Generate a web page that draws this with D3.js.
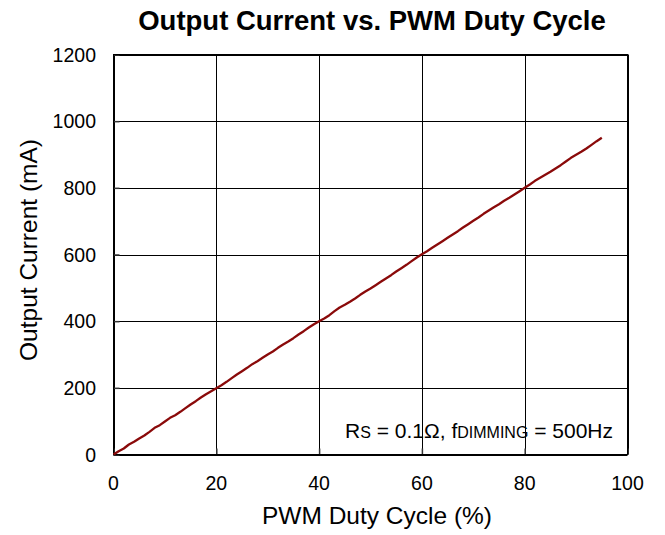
<!DOCTYPE html>
<html>
<head>
  <meta charset="utf-8">
  <title>Output Current vs. PWM Duty Cycle</title>
  <script src="https://cdnjs.cloudflare.com/ajax/libs/d3/7.8.5/d3.min.js"></script>
  <style>
    body { margin: 0; background: #fff; }
    text { font-family: Arial, "Liberation Sans", sans-serif; fill: #000; }
  </style>
</head>
<body>
  <div id="chart"></div>
  <script>
    // Data
    const duty = [0,1,2,3,4,5,6,7,8,9,10,11,12,13,14,15,16,17,18,19,20,21,22,23,24,25,26,27,28,29,30,
      31,32,33,34,35,36,37,38,39,40,41,42,43,44,45,46,47,48,49,50,51,52,53,54,55,56,57,58,59,60,
      61,62,63,64,65,66,67,68,69,70,71,72,73,74,75,76,77,78,79,80,81,82,83,84,85,86,87,88,89,90,
      91,92,93,94,95];
    const current = [0,10,18,30,38,48,57,68,80,88,99,110,118,128,139,150,160,171,181,190,199,
      208,218,229,240,250,260,271,280,290,300,309,320,330,339,349,360,370,381,391,400,
      408,418,430,441,449,458,468,479,489,498,508,518,528,538,549,559,569,580,591,601,
      610,620,630,640,650,660,670,681,691,701,711,722,732,742,751,761,770,780,790,800,
      810,821,830,839,848,858,868,879,890,899,908,918,929,940,950];
    const xTicks = [0, 20, 40, 60, 80, 100];
    const yTicks = [0, 200, 400, 600, 800, 1000, 1200];

    const width = 665, height = 535;
    const margin = { left: 113.5, right: 37.5, top: 54.5, bottom: 80.5 };

    const svg = d3.select("#chart").append("svg")
      .attr("width", width)
      .attr("height", height);

    const x = d3.scaleLinear().domain([0, 100]).range([margin.left, width - margin.right]);
    const y = d3.scaleLinear().domain([0, 1200]).range([height - margin.bottom, margin.top]);

    // grid
    svg.append("g").selectAll("line").data(xTicks).enter().append("line")
      .attr("x1", d => Math.round(x(d)) + 0.5).attr("x2", d => Math.round(x(d)) + 0.5)
      .attr("y1", y(0)).attr("y2", y(1200))
      .attr("stroke", "#000").attr("stroke-width", 1);
    svg.append("g").selectAll("line").data(yTicks).enter().append("line")
      .attr("x1", x(0)).attr("x2", x(100))
      .attr("y1", d => Math.round(y(d)) + 0.5).attr("y2", d => Math.round(y(d)) + 0.5)
      .attr("stroke", "#000").attr("stroke-width", 1);

    // inward ticks
    const xAxis = d3.axisBottom(x).tickValues(xTicks).tickSize(-6).tickFormat("");
    const yAxis = d3.axisLeft(y).tickValues(yTicks).tickSize(-6).tickFormat("");
    svg.append("g").attr("transform", `translate(0,${y(0)})`).call(xAxis)
      .call(g => g.select(".domain").remove())
      .selectAll("line").attr("stroke", "#333").attr("stroke-width", 1.5);
    svg.append("g").attr("transform", `translate(${x(0)},0)`).call(yAxis)
      .call(g => g.select(".domain").remove())
      .selectAll("line").attr("stroke", "#333").attr("stroke-width", 1.5);

    // frame
    svg.append("rect")
      .attr("x", x(0)).attr("y", y(1200))
      .attr("width", x(100) - x(0)).attr("height", y(0) - y(1200))
      .attr("fill", "none").attr("stroke", "#000").attr("stroke-width", 1);

    // tick labels
    svg.append("g").selectAll("text").data(xTicks).enter().append("text")
      .attr("x", d => x(d)).attr("y", 490)
      .attr("text-anchor", "middle").attr("font-size", 19.5)
      .text(d => d);
    svg.append("g").selectAll("text").data(yTicks).enter().append("text")
      .attr("x", 96).attr("y", d => y(d) + 7)
      .attr("text-anchor", "end").attr("font-size", 19.5)
      .text(d => d);

    // line
    const pts = duty.map((d, i) => [d, current[i]]);
    svg.append("path")
      .datum(pts)
      .attr("fill", "none")
      .attr("stroke", "#8a0a0a")
      .attr("stroke-width", 2.3)
      .attr("stroke-linejoin", "round")
      .attr("d", d3.line().x(d => x(d[0])).y(d => y(d[1])));

    // title and axis labels
    svg.append("text")
      .attr("x", 372).attr("y", 30)
      .attr("text-anchor", "middle").attr("font-size", 27.5).attr("font-weight", "bold")
      .text("Output Current vs. PWM Duty Cycle");
    svg.append("text")
      .attr("x", 377).attr("y", 524)
      .attr("text-anchor", "middle").attr("font-size", 24.5)
      .text("PWM Duty Cycle (%)");
    svg.append("text")
      .attr("transform", "translate(37,250) rotate(-90)")
      .attr("text-anchor", "middle").attr("font-size", 24.5)
      .text("Output Current (mA)");

    // annotation
    const note = svg.append("text")
      .attr("x", 613).attr("y", 438)
      .attr("text-anchor", "end").attr("font-size", 21);
    note.append("tspan").text("R");
    note.append("tspan").attr("font-size", 16).text("S");
    note.append("tspan").text(" = 0.1\u03A9, f");
    note.append("tspan").attr("font-size", 16).text("DIMMING");
    note.append("tspan").text(" = 500Hz");
  </script>
</body>
</html>
